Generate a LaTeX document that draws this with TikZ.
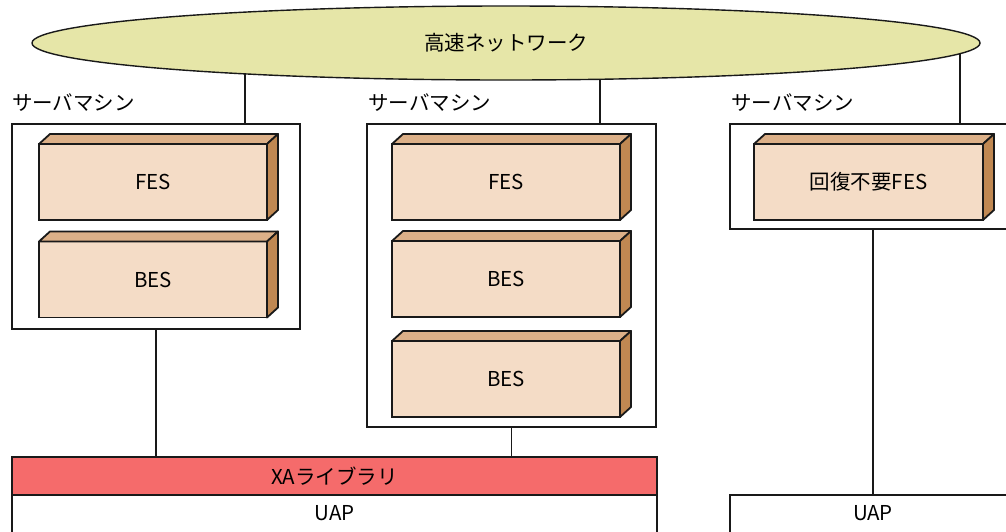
\documentclass[tikz,border=0pt]{standalone}
\usepackage{fontspec}
\setmainfont{Noto Sans CJK JP}
\usetikzlibrary{shapes.geometric,backgrounds}
\definecolor{netfill}{RGB}{230,230,168}
\definecolor{frontc}{RGB}{244,220,198}
\definecolor{topc}{RGB}{220,176,136}
\definecolor{sidec}{RGB}{192,136,82}
\definecolor{xac}{RGB}{245,107,107}
\definecolor{linec}{RGB}{25,25,25}
\tikzset{
  txt/.style={font=\fontsize{20.5pt}{24pt}\selectfont, text=black},
  netnode/.style={ellipse, draw=linec, line width=1.4pt, fill=netfill, minimum width=948pt, minimum height=74pt, inner sep=0pt, outer sep=0pt, txt},
  srvbox/.style={rectangle, draw=linec, line width=1.8pt, fill=white, inner sep=0pt, outer sep=0pt, anchor=north west},
  srvlabel/.style={txt, inner sep=0pt, anchor=west},
  front/.style={rectangle, draw=linec, line width=1.8pt, fill=frontc, inner sep=0pt, outer sep=0pt, minimum width=228pt, minimum height=76pt, txt},
  facestyle/.style={draw=linec, line width=1.8pt, line join=round},
  xabar/.style={rectangle, draw=linec, line width=1.8pt, fill=xac, inner sep=0pt, outer sep=0pt, anchor=north west, minimum width=645pt, minimum height=38pt, txt},
  uapbox/.style={rectangle, draw=linec, line width=1.8pt, fill=white, inner xsep=0pt, inner ysep=0pt, outer sep=0pt, anchor=north west, text height=25pt, text depth=20pt, txt},
  conn/.style={draw=linec, line width=1.5pt}
}
\newcommand\mkcube[1]{%
  \draw[facestyle, fill=topc] (#1.north west) -- ([shift={(11,-10)}]#1.north west) -- ([shift={(11,-10)}]#1.north east) -- (#1.north east) -- cycle;
  \draw[facestyle, fill=sidec] (#1.north east) -- ([shift={(11,-10)}]#1.north east) -- ([shift={(11,-10)}]#1.south east) -- (#1.south east) -- cycle;}
\begin{document}
\begin{tikzpicture}[x=1pt, y=-1pt]
\useasboundingbox (0,0) rectangle (1006,531);
\clip (0,0) rectangle (1006,531);
% network
\node[netnode] (net) at (506,43) {高速ネットワーク};
% server machines
\node[srvbox, minimum width=288pt, minimum height=205pt] (srvA) at (12,124) {};
\node[srvbox, minimum width=289pt, minimum height=303pt] (srvB) at (367,124) {};
\node[srvbox, minimum width=286pt, minimum height=105pt] (srvC) at (730,124) {};
\node[srvlabel] (labA) at (12,103) {サーバマシン};
\node[srvlabel] (labB) at (368,103) {サーバマシン};
\node[srvlabel] (labC) at (731,103) {サーバマシン};
% servers (cuboids)
\node[front] (feA) at (153,182) {FES};
\mkcube{feA}
\node[front] (beA) at (153,279.5) {BES};
\mkcube{beA}
\node[front] (feB) at (506,182) {FES};
\mkcube{feB}
\node[front] (beB1) at (506,279) {BES};
\mkcube{beB1}
\node[front] (beB2) at (506,379) {BES};
\mkcube{beB2}
\node[front, minimum width=229pt] (feC) at (868.5,182) {回復不要FES};
\mkcube{feC}
% XA library and UAP
\node[xabar] (xa) at (12,457) {XAライブラリ};
\node[uapbox, minimum width=645pt] (uap1) at (12,495) {UAP};
\node[uapbox, minimum width=286pt] (uap2) at (730,495) {UAP};
% connectors
\begin{scope}[on background layer]
  \draw[conn] ([xshift=89pt]srvA.north) -- ([xshift=89pt]srvA.north |- net.center);
  \draw[conn] ([xshift=88.5pt]srvB.north) -- ([xshift=88.5pt]srvB.north |- net.center);
  \draw[conn] ([xshift=87pt]srvC.north) -- ([xshift=87pt]srvC.north |- net.center);
\end{scope}
\draw[conn] (srvA.south) -- (srvA.south |- xa.north);
\draw[conn] (srvB.south) -- (srvB.south |- xa.north);
\draw[conn] (srvC.south) -- (srvC.south |- uap2.north);
\end{tikzpicture}
\end{document}
